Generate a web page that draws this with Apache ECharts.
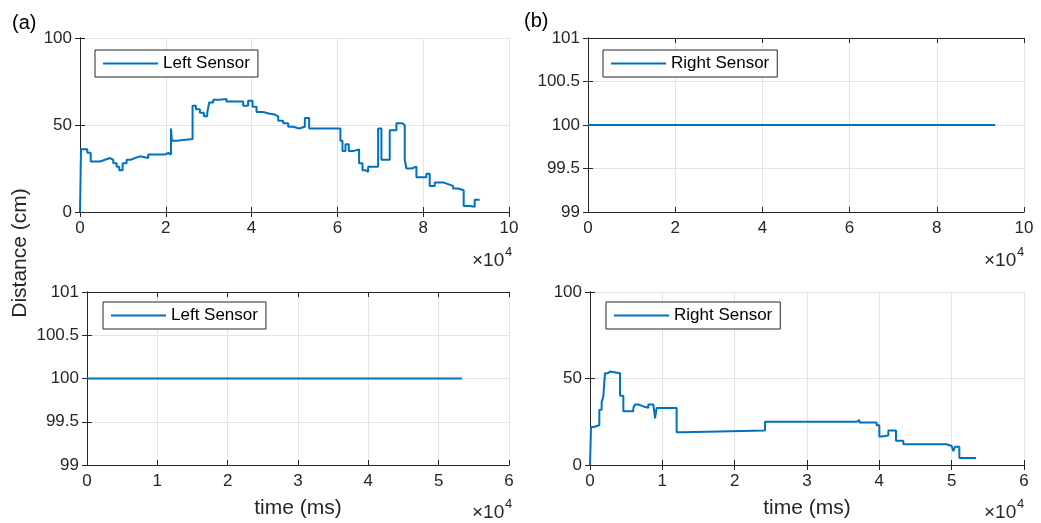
<!DOCTYPE html>
<html>
<head>
<meta charset="utf-8">
<script src="https://cdn.jsdelivr.net/npm/echarts@6/dist/echarts.min.js"></script>
<style>
  html, body { margin: 0; padding: 0; background: #fff; }
  #chart { width: 1041px; height: 523px; }
</style>
</head>
<body>
<div id="chart"></div>
<script>
// 数据（时间单位 ms，距离单位 cm）
const leftTopTime = [0, 233, 1700, 2500, 4660, 5820, 7000, 7760, 8540, 9160, 9940, 10870, 11800, 12810, 13980, 15900, 19800, 20570, 21200, 21430, 22500, 26240, 27020, 27950, 28880, 29660, 30120, 31060, 32600, 34160, 38040, 39200, 40220, 41150, 42700, 44250, 45420, 46200, 47360, 48530, 49690, 51090, 52410, 53420, 60700, 61180, 61880, 62650, 63660, 65060, 65840, 66620, 67160, 69490, 70260, 72200, 73760, 75160, 75700, 76090, 77250, 78420, 80750, 81520, 82690, 84630, 85800, 86960, 88120, 89440, 90840, 92000, 93170];
const leftTopDist = [0, 36, 34, 29, 30, 31, 30, 28, 26, 24, 28, 30, 31, 32, 31, 33, 34, 33, 48, 41, 42, 61, 59, 57, 55, 57, 63, 64.5, 65, 63.5, 61, 64, 60.5, 57.5, 56.5, 56, 55, 52.5, 51, 49, 48, 49, 54, 48, 41, 35, 39, 35, 36, 28, 24, 23, 26, 48, 30, 47, 51, 50, 30, 25, 26, 20, 22, 15, 17, 16, 15, 13.5, 12.5, 3.5, 3, 7, 7];

const rightTopTime = [0, 93400];
const rightTopDist = [100, 100];

const leftBottomTime = [0, 53300];
const leftBottomDist = [100, 100];

const rightBottomTime = [0, 140, 500, 1290, 1610, 1840, 2070, 2400, 2760, 4150, 4610, 5990, 6220, 6680, 7280, 8060, 8760, 8990, 9220, 11980, 12900, 24190, 36870, 37240, 39630, 40000, 40320, 41240, 42300, 43320, 49300, 50000, 50230, 50460, 51060, 53360];
const rightBottomDist = [0, 22, 23, 32, 36.5, 39.5, 53, 54, 53, 40, 31, 33, 35, 34, 33, 35, 34, 27, 33, 19, 20, 25, 26, 24.5, 23, 16.5, 17, 20, 14, 12, 11, 12, 8, 10.5, 4, 4];

// 坐标轴范围
const xTop = { min: 0, max: 100000, interval: 20000 };
const xBottom = { min: 0, max: 60000, interval: 10000 };
const yDist = { min: 0, max: 100, interval: 50 };
const yFlat = { min: 99, max: 101, interval: 0.5 };

const FONT = "Liberation Sans, Arial, Helvetica, sans-serif";
const AXIS_COLOR = "#262626";
const LINE_COLOR = "#0072BD";

// 阶梯线：每个值保持到下一个采样点
const stairs = (xs, ys) => {
  const out = [];
  xs.forEach((x, i) => {
    if (i > 0) out.push([x, ys[i - 1]]);
    out.push([x, ys[i]]);
  });
  return out;
};

const grids = [
  { left: 80, top: 38, width: 429, height: 174 },
  { left: 588, top: 38, width: 436, height: 174 },
  { left: 87, top: 292, width: 422, height: 173 },
  { left: 590, top: 292, width: 434, height: 173 },
];

// 每个子图：x 范围，y 范围，数据，图例名称
const panels = [
  { x: xTop, y: yDist, data: stairs(leftTopTime, leftTopDist), name: "Left Sensor" },
  { x: xTop, y: yFlat, data: stairs(rightTopTime, rightTopDist), name: "Right Sensor" },
  { x: xBottom, y: yFlat, data: stairs(leftBottomTime, leftBottomDist), name: "Left Sensor" },
  { x: xBottom, y: yDist, data: stairs(rightBottomTime, rightBottomDist), name: "Right Sensor" },
];

const legendPos = [
  { left: 95, top: 50 },
  { left: 603, top: 50 },
  { left: 103, top: 302 },
  { left: 606, top: 302 },
];

const xAxes = [];
const yAxes = [];
const series = [];
const legends = [];

panels.forEach((p, i) => {
  // 底部 x 轴
  xAxes.push({
    gridIndex: i, type: "value", position: "bottom",
    min: p.x.min, max: p.x.max, interval: p.x.interval,
    axisLine: { lineStyle: { color: AXIS_COLOR, width: 1 } },
    axisTick: { inside: true, length: 5, lineStyle: { color: AXIS_COLOR } },
    axisLabel: { margin: 8, fontSize: 17, fontFamily: FONT, color: AXIS_COLOR,
      formatter: v => String(v / 10000) },
    splitLine: { show: true, lineStyle: { color: "#e3e3e3", width: 1 } },
  });
  // 顶部 x 轴（只画刻度）
  xAxes.push({
    gridIndex: i, type: "value", position: "top",
    min: p.x.min, max: p.x.max, interval: p.x.interval,
    axisLine: { lineStyle: { color: AXIS_COLOR, width: 1 } },
    axisTick: { inside: true, length: 5, lineStyle: { color: AXIS_COLOR } },
    axisLabel: { show: false },
    splitLine: { show: false },
  });
  // 左侧 y 轴
  yAxes.push({
    gridIndex: i, type: "value", position: "left",
    min: p.y.min, max: p.y.max, interval: p.y.interval,
    axisLine: { show: true, lineStyle: { color: AXIS_COLOR, width: 1 } },
    axisTick: { show: true, inside: true, length: 5, lineStyle: { color: AXIS_COLOR } },
    axisLabel: { margin: 8, fontSize: 17, fontFamily: FONT, color: AXIS_COLOR },
    splitLine: { show: true, lineStyle: { color: "#e3e3e3", width: 1 } },
  });
  // 右侧 y 轴（只画刻度）
  yAxes.push({
    gridIndex: i, type: "value", position: "right",
    min: p.y.min, max: p.y.max, interval: p.y.interval,
    axisLine: { show: true, lineStyle: { color: AXIS_COLOR, width: 1 } },
    axisTick: { show: true, inside: true, length: 5, lineStyle: { color: AXIS_COLOR } },
    axisLabel: { show: false },
    splitLine: { show: false },
  });

  series.push({
    name: p.name,
    type: "line",
    xAxisIndex: 2 * i,
    yAxisIndex: 2 * i,
    symbol: "none",
    animation: false,
    lineStyle: { color: LINE_COLOR, width: 2 },
    itemStyle: { color: LINE_COLOR },
    data: p.data,
  });

  legends.push({
    left: legendPos[i].left,
    top: legendPos[i].top,
    data: [p.name],
    orient: "vertical",
    icon: "rect",
    itemWidth: 55,
    itemHeight: 2,
    itemGap: 0,
    padding: [5, 8, 5, 8],
    backgroundColor: "#fff",
    borderColor: AXIS_COLOR,
    borderWidth: 1,
    borderRadius: 0,
    selectedMode: false,
    textStyle: { fontSize: 17, fontFamily: FONT, color: "#000", padding: [0, 0, 0, 0] },
  });
});

// ×10^4 标记
const expMarks = [
  { x: 472, y: 261 },
  { x: 984, y: 261 },
  { x: 472, y: 513 },
  { x: 984, y: 513 },
];
const graphics = [];
expMarks.forEach(m => {
  graphics.push({
    type: "text", x: m.x, y: m.y,
    style: { text: "×10", font: "19px " + FONT, fill: AXIS_COLOR,
      textAlign: "left", textVerticalAlign: "middle" },
  });
  graphics.push({
    type: "text", x: m.x + 33, y: m.y - 9,
    style: { text: "4", font: "13px " + FONT, fill: AXIS_COLOR,
      textAlign: "left", textVerticalAlign: "middle" },
  });
});
graphics.push(
  { type: "text", x: 12, y: 23,
    style: { text: "(a)", font: "20px " + FONT, fill: "#000", textAlign: "left", textVerticalAlign: "middle" } },
  { type: "text", x: 524, y: 21,
    style: { text: "(b)", font: "20px " + FONT, fill: "#000", textAlign: "left", textVerticalAlign: "middle" } },
  { type: "text", x: 20, y: 253, rotation: Math.PI / 2,
    style: { text: "Distance (cm)", font: "21px " + FONT, fill: AXIS_COLOR, textAlign: "center", textVerticalAlign: "middle" } },
  { type: "text", x: 298, y: 508,
    style: { text: "time (ms)", font: "21px " + FONT, fill: AXIS_COLOR, textAlign: "center", textVerticalAlign: "middle" } },
  { type: "text", x: 807, y: 508,
    style: { text: "time (ms)", font: "21px " + FONT, fill: AXIS_COLOR, textAlign: "center", textVerticalAlign: "middle" } }
);

const myChart = echarts.init(document.getElementById("chart"), null, { renderer: "canvas" });
myChart.setOption({
  backgroundColor: "#fff",
  animation: false,
  grid: grids,
  xAxis: xAxes,
  yAxis: yAxes,
  legend: legends,
  series: series,
  graphic: graphics,
});
</script>
</body>
</html>
